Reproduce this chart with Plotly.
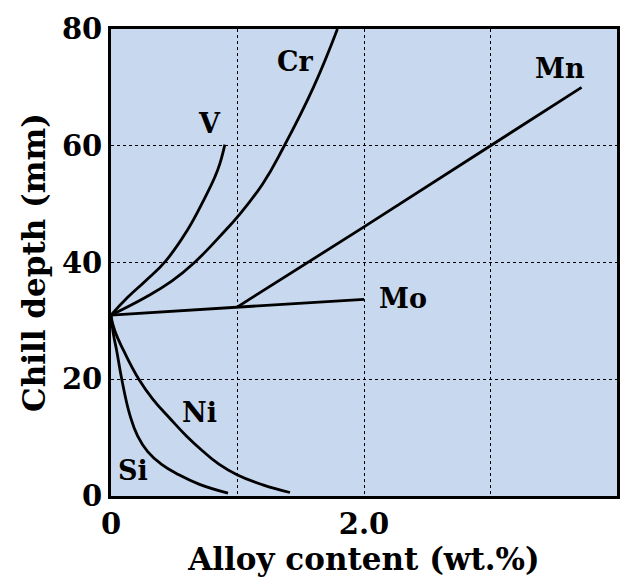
import plotly.graph_objects as go

# Data
v_x = [0, 0.13, 0.27, 0.43, 0.60, 0.74, 0.82, 0.86, 0.90]
v_y = [31, 34.0, 36.8, 40.2, 45.4, 51, 54.6, 56.9, 60.2]
cr_x = [0, 0.27, 0.48, 0.66, 0.90, 1.0, 1.2, 1.37, 1.6, 1.79]
cr_y = [31, 34.0, 36.8, 40, 45.4, 47.8, 53.5, 60, 70, 80]
mo_x = [0, 2.0]
mo_y = [31, 33.7]
mn_x = [1.0, 2.0, 3.0, 3.72]
mn_y = [32.4, 46.1, 60, 70]
ni_x = [0, 0.03, 0.10, 0.22, 0.33, 0.47, 0.60, 0.72, 0.85, 1.0, 1.2, 1.415]
ni_y = [30.8, 28.3, 24.9, 20, 16.6, 13.2, 10.2, 7.8, 5.5, 3.6, 1.9, 0.6]
si_x = [0, 0.02, 0.045, 0.085, 0.15, 0.21, 0.29, 0.40, 0.53, 0.70, 0.925]
si_y = [30.8, 27.6, 24.9, 20, 13.8, 10.3, 7.6, 5.4, 3.7, 2.0, 0.5]

labels = ["Cr", "V", "Mn", "Mo", "Ni", "Si"]
label_x = [1.455, 0.78, 3.55, 2.31, 0.70, 0.17]
label_y = [74.4, 63.8, 73.2, 33.8, 14.3, 4.4]

x_ticks = [0, 1, 2, 3, 4]
x_ticktext = ["0", "", "2.0", "", "4.0"]
y_ticks = [0, 20, 40, 60, 80]
y_ticktext = ["0", "20", "40", "60", "80"]

FONT = "DejaVu Serif"
SIZE = 29
TITLE_SIZE = 31
LABEL_SIZE = 27

fig = go.Figure()
series = [(v_x, v_y, "spline"), (cr_x, cr_y, "spline"), (mo_x, mo_y, "linear"),
          (mn_x, mn_y, "linear"), (ni_x, ni_y, "spline"), (si_x, si_y, "spline")]
for xs, ys, shape in series:
    fig.add_trace(go.Scatter(x=xs, y=ys, mode="lines",
                             line=dict(color="black", width=2.8, shape=shape, smoothing=1.3),
                             showlegend=False, hoverinfo="skip"))

for t, lx, ly in zip(labels, label_x, label_y):
    fig.add_annotation(x=lx, y=ly, text=t, showarrow=False,
                       font=dict(family=FONT, size=LABEL_SIZE, color="black", weight="bold"))

fig.update_layout(
    width=635, height=581,
    margin=dict(l=111, r=18, t=27, b=85),
    paper_bgcolor="white",
    plot_bgcolor="#c8d8ee",
    font=dict(family=FONT, size=SIZE, color="black", weight="bold"),
)
fig.update_xaxes(range=[0, 4], tickvals=x_ticks, ticktext=x_ticktext,
                 showgrid=True, gridcolor="black", griddash="dot", gridwidth=1,
                 showline=True, linecolor="black", linewidth=2.8, mirror=True,
                 ticks="", zeroline=False,
                 tickfont=dict(family=FONT, size=SIZE, weight="bold"),
                 title=dict(text="Alloy content (wt.%)",
                            font=dict(family=FONT, size=TITLE_SIZE, weight="bold"), standoff=0))
fig.update_yaxes(range=[0, 80], tickvals=y_ticks, ticktext=y_ticktext,
                 showgrid=True, gridcolor="black", griddash="dot", gridwidth=1,
                 showline=True, linecolor="black", linewidth=2.8, mirror=True,
                 ticks="", zeroline=False,
                 tickfont=dict(family=FONT, size=SIZE, weight="bold"),
                 title=dict(text="Chill depth (mm)",
                            font=dict(family=FONT, size=TITLE_SIZE, weight="bold"), standoff=8))

fig.write_html("out.html")
